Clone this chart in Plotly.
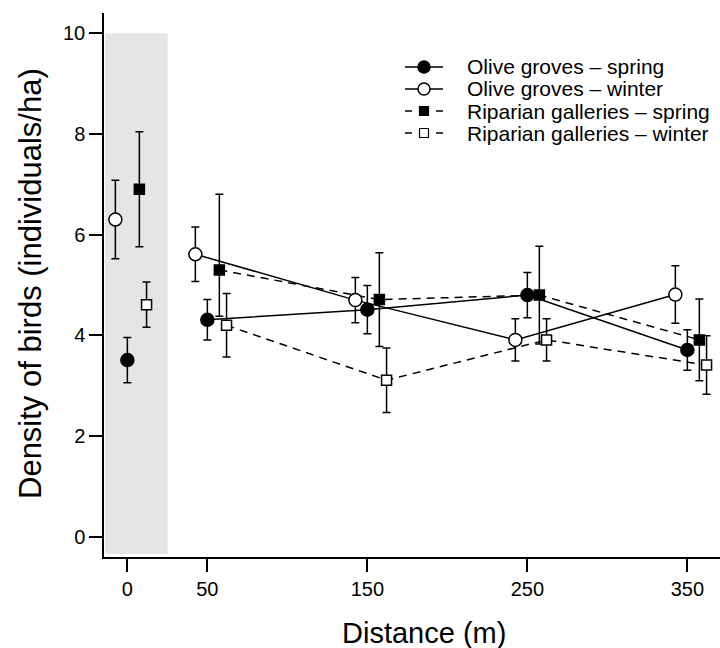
import plotly.graph_objects as go

# ---------------- data ----------------
distances = [0, 50, 150, 250, 350]
tick_labels = ["0", "50", "150", "250", "350"]
series_names = ["Olive groves – spring", "Olive groves – winter",
                "Riparian galleries – spring", "Riparian galleries – winter"]
olive_spring = [3.51, 4.31, 4.51, 4.80, 3.71]
olive_spring_err_up = [0.45, 0.40, 0.48, 0.45, 0.40]
olive_spring_err_dn = [0.45, 0.40, 0.48, 0.45, 0.40]
olive_winter = [6.30, 5.61, 4.70, 3.91, 4.81]
olive_winter_err_up = [0.78, 0.54, 0.45, 0.42, 0.57]
olive_winter_err_dn = [0.78, 0.54, 0.45, 0.42, 0.57]
riparian_spring = [6.90, 5.30, 4.71, 4.80, 3.91]
riparian_spring_err_up = [1.14, 1.50, 0.93, 0.97, 0.81]
riparian_spring_err_dn = [1.14, 0.92, 0.93, 0.97, 0.81]
riparian_winter = [4.61, 4.20, 3.11, 3.91, 3.41]
riparian_winter_err_up = [0.45, 0.63, 0.64, 0.42, 0.58]
riparian_winter_err_dn = [0.45, 0.63, 0.64, 0.42, 0.58]
# horizontal dodge of each series (m)
dodge = [0, -7.5, 7.5, 12]
# shaded reference zone (distance 0)
shade_x = [-13.9, 25.2]
shade_y = [-0.34, 10]

FONT = "Liberation Sans, Arial, sans-serif"
W, H = 720, 648
L, R, T, B = 104, 0, 13, 91
PW, PH = W - L - R, H - T - B

values = [olive_spring, olive_winter, riparian_spring, riparian_winter]
err_up = [olive_spring_err_up, olive_winter_err_up, riparian_spring_err_up, riparian_winter_err_up]
err_dn = [olive_spring_err_dn, olive_winter_err_dn, riparian_spring_err_dn, riparian_winter_err_dn]
symbols = ["circle", "circle", "square", "square"]
fills = ["black", "white", "black", "white"]
sizes = [13, 13, 10, 10]
dashes = ["solid", "solid", "8px,6px", "8px,6px"]

fig = go.Figure()

# connecting lines (distances >= 50 only)
for v, d, dash in zip(values, dodge, dashes):
    fig.add_trace(go.Scatter(
        x=[x + d for x in distances[1:]], y=v[1:], mode="lines",
        line=dict(color="black", width=1.5, dash=dash),
        showlegend=False, hoverinfo="skip"))

# points with error bars
for name, v, eu, ed, d, sym, fc, sz in zip(series_names, values, err_up, err_dn,
                                           dodge, symbols, fills, sizes):
    fig.add_trace(go.Scatter(
        x=[x + d for x in distances], y=v, mode="markers", name=name,
        marker=dict(symbol=sym, size=sz, color=fc, line=dict(color="black", width=1.5)),
        error_y=dict(type="data", symmetric=False, array=eu, arrayminus=ed,
                     visible=True, color="black", thickness=1.5, width=4),
        showlegend=False))

fig.add_shape(type="rect", xref="x", yref="y", x0=shade_x[0], x1=shade_x[1],
              y0=shade_y[0], y1=shade_y[1], fillcolor="#e5e5e5",
              line=dict(width=0), layer="below")

# ---- manual legend (pixel layout converted to paper coords) ----
def px(xp):
    return (xp - L) / PW

def py(yp):
    return (H - B - yp) / PH

row_y = [67, 89, 111, 133]
for i, (name, yp) in enumerate(zip(series_names, row_y)):
    if i < 2:
        fig.add_shape(type="line", xref="paper", yref="paper",
                      x0=px(405), x1=px(443), y0=py(yp), y1=py(yp),
                      line=dict(color="black", width=1.5))
    else:
        for a, b in [(405, 412), (436, 443)]:
            fig.add_shape(type="line", xref="paper", yref="paper",
                          x0=px(a), x1=px(b), y0=py(yp), y1=py(yp),
                          line=dict(color="black", width=1.5))
    if i < 2:
        r = 6
        fig.add_shape(type="circle", xref="paper", yref="paper",
                      x0=px(424 - r), x1=px(424 + r), y0=py(yp + r), y1=py(yp - r),
                      fillcolor=fills[i], line=dict(color="black", width=1.5))
    else:
        r = 4.5
        fig.add_shape(type="rect", xref="paper", yref="paper",
                      x0=px(424 - r), x1=px(424 + r), y0=py(yp + r), y1=py(yp - r),
                      fillcolor=fills[i], line=dict(color="black", width=1.2))
    fig.add_annotation(x=px(465), y=py(yp), xref="paper", yref="paper",
                       text=name, showarrow=False, xanchor="left", yanchor="middle",
                       font=dict(size=21, color="black", family=FONT))

# axis titles
fig.add_annotation(x=px(424), y=py(633), xref="paper", yref="paper",
                   text="Distance (m)", showarrow=False, xanchor="center", yanchor="middle",
                   font=dict(size=29, color="black", family=FONT))
fig.add_annotation(x=px(30), y=py(284), xref="paper", yref="paper",
                   text="Density of birds (individuals/ha)", showarrow=False, textangle=-90,
                   xanchor="center", yanchor="middle",
                   font=dict(size=31, color="black", family=FONT))

fig.update_xaxes(range=[-14.6, 370.4], tickvals=distances, ticktext=tick_labels,
                 showline=True, linecolor="black", linewidth=1.5, ticks="outside",
                 ticklen=13, tickwidth=1.5, tickcolor="black", showgrid=False,
                 zeroline=False, tickfont=dict(size=20, color="black", family=FONT))
fig.update_yaxes(range=[-0.4, 10.4], tickvals=[0, 2, 4, 6, 8, 10],
                 showline=True, linecolor="black", linewidth=1.5, ticks="outside",
                 ticklen=13, tickwidth=1.5, tickcolor="black", showgrid=False,
                 zeroline=False, tickfont=dict(size=20, color="black", family=FONT))

fig.update_layout(width=W, height=H, margin=dict(l=L, r=R, t=T, b=B),
                  plot_bgcolor="white", paper_bgcolor="white", showlegend=False,
                  font=dict(family=FONT, color="black"))

fig.write_html("out.html")
